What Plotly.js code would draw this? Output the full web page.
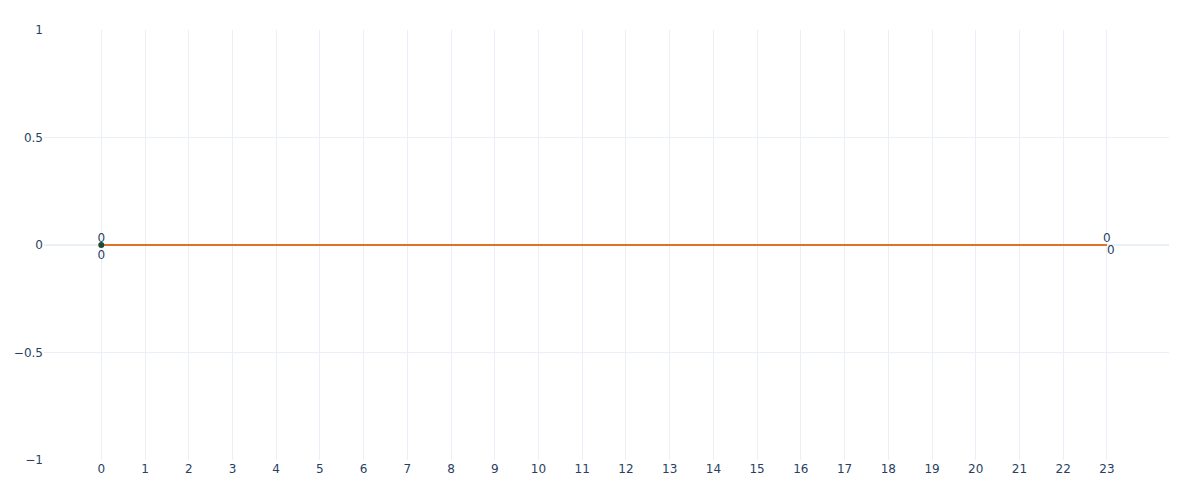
<!DOCTYPE html>
<html>
<head>
<meta charset="utf-8">
<script src="https://cdn.plot.ly/plotly-3.0.1.min.js"></script>
<style>html,body{margin:0;padding:0;background:#fff;}#chart{width:1200px;height:500px;}</style>
</head>
<body>
<div id="chart"></div>
<script>
const hours = [0, 23];
const lineValues = [0, 0];
const lineLabels = ['0', '0'];
const pointHours = [0];
const pointValues = [0];
const pointLabels = ['0'];
const endHours = [23];
const endValues = [0];
const endLabels = ['0'];
const tickVals = [0,1,2,3,4,5,6,7,8,9,10,11,12,13,14,15,16,17,18,19,20,21,22,23];

const traces = [
  {
    x: hours, y: lineValues, text: lineLabels, mode: 'lines+text',
    textposition: 'top center',
    line: {color: '#e0702a', width: 2},
    textfont: {color: '#2a3f5f', size: 12},
    hoverinfo: 'x+y', showlegend: false
  },
  {
    x: pointHours, y: pointValues, text: pointLabels, mode: 'markers+text',
    textposition: 'bottom center',
    marker: {color: '#1b4d36', size: 6},
    textfont: {color: '#2a3f5f', size: 12},
    showlegend: false
  },
  {
    x: endHours, y: endValues, text: endLabels, mode: 'text',
    textposition: 'bottom right',
    textfont: {color: '#2a3f5f', size: 12},
    showlegend: false
  }
];

const layout = {
  width: 1200, height: 500,
  margin: {l: 44, r: 31, t: 30, b: 40},
  paper_bgcolor: '#fff', plot_bgcolor: '#fff',
  font: {family: '"DejaVu Sans", verdana, arial, sans-serif', size: 12, color: '#2a3f5f'},
  showlegend: false,
  xaxis: {
    range: [-1.31, 24.42], tickmode: 'array', tickvals: tickVals,
    gridcolor: '#ebf0f8', zeroline: false, showline: false, ticks: ''
  },
  yaxis: {
    range: [-1, 1], tickvals: [-1, -0.5, 0, 0.5, 1],
    gridcolor: '#ebf0f8', zeroline: true, zerolinecolor: '#ebf0f8', zerolinewidth: 2, showline: false, ticks: ''
  }
};

Plotly.newPlot('chart', traces, layout, {displayModeBar: false, staticPlot: true});
</script>
</body>
</html>
